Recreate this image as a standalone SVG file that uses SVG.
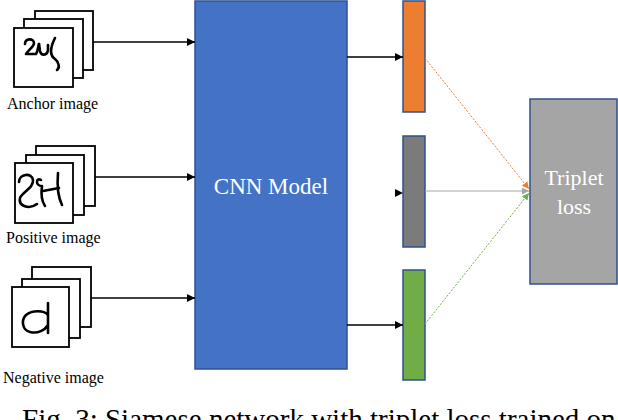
<svg xmlns="http://www.w3.org/2000/svg" width="618" height="420" viewBox="0 0 618 420">
<style>
.card{fill:#fff;stroke:#000;stroke-width:1.8}
.hw{fill:none;stroke:#000;stroke-width:2.6;stroke-linecap:round;stroke-linejoin:round}
.serif{font-family:"Liberation Serif","DejaVu Serif","Times New Roman",serif}
.lbl{font-size:16px;fill:#000}
.bar{stroke:#2F528F;stroke-width:1.5}
.wt{fill:#fff}
.arr{stroke:#000;stroke-width:1.5;fill:none}
</style>
<defs>
<marker id="ah" viewBox="0 0 10 10" refX="10" refY="5" markerWidth="8" markerHeight="8" markerUnits="userSpaceOnUse" orient="auto"><path d="M0,0L10,5L0,10z" fill="#000"/></marker>
<marker id="ao" viewBox="0 0 10 10" refX="10" refY="5" markerWidth="7" markerHeight="7" markerUnits="userSpaceOnUse" orient="auto"><path d="M0,0L10,5L0,10z" fill="#ED7D31"/></marker>
<marker id="ag" viewBox="0 0 10 10" refX="10" refY="5" markerWidth="7" markerHeight="7" markerUnits="userSpaceOnUse" orient="auto"><path d="M0,0L10,5L0,10z" fill="#70AD47"/></marker>
<marker id="ay" viewBox="0 0 10 10" refX="10" refY="5" markerWidth="7" markerHeight="7" markerUnits="userSpaceOnUse" orient="auto"><path d="M0,0L10,5L0,10z" fill="#A5A5A5"/></marker>
</defs>
<rect width="618" height="420" fill="#fff"/>

<g id="anchor">
<rect class="card" x="35" y="11" width="58" height="59"/>
<rect class="card" x="24" y="19" width="59" height="59"/>
<rect class="card" x="14" y="28" width="59" height="59"/>
<path class="hw" d="M25,44 C25,38 34,38 34,43 C34,47 28,50 26,54 L36,54 C38,51 38,47 39,44"/>
<path class="hw" d="M39,44 L40,51 C41,56 47,56 48,50 L48,45"/>
<path class="hw" d="M55,38 C51,46 49,55 55,59 C59,62 60,68 57,70"/>
<text class="serif lbl" x="7" y="109">Anchor image</text>
</g>

<g id="positive">
<rect class="card" x="36" y="146" width="59" height="60"/>
<rect class="card" x="26" y="155" width="58" height="60"/>
<rect class="card" x="15" y="163" width="58" height="60"/>
<path class="hw" d="M19,182 C19,174 32,172 33,180 C34,188 22,192 20,198 C18,206 29,210 37,204"/>
<path class="hw" d="M41,180 C36,177 35,186 42,186 C41,193 41,200 45,206"/>
<path class="hw" d="M43,191 L59,188"/>
<path class="hw" d="M58,173 C57,185 58,197 62,205"/>
<text class="serif lbl" x="6" y="243">Positive image</text>
</g>

<g id="negative">
<rect class="card" x="32" y="267" width="59" height="60"/>
<rect class="card" x="22" y="279" width="58" height="59"/>
<rect class="card" x="12" y="287" width="57" height="60"/>
<path class="hw" d="M48,303 L48,333 M48,315 C44,310 32,310 26,315 C21,320 22,330 30,332 C38,334 45,330 48,325"/>
<text class="serif lbl" x="3" y="383">Negative image</text>
</g>

<g id="cnn">
<rect x="195" y="1" width="152" height="368" fill="#4472C4" stroke="#2F528F" stroke-width="1.5"/>
<text class="serif wt" x="271" y="194" font-size="23" text-anchor="middle">CNN Model</text>
</g>

<g id="emb-anchor"><rect class="bar" x="403" y="1" width="22" height="111" fill="#ED7D31"/></g>
<g id="emb-positive"><rect class="bar" x="403" y="136" width="22" height="111" fill="#7B7B7B"/></g>
<g id="emb-negative"><rect class="bar" x="403" y="270" width="22" height="110" fill="#70AD47"/></g>

<g id="triplet">
<rect x="530" y="99" width="87" height="185" fill="#A5A5A5" stroke="#2F528F" stroke-width="1.5"/>
<text class="serif wt" x="574" y="185" font-size="22" text-anchor="middle">Triplet</text>
<text class="serif wt" x="574" y="214" font-size="22" text-anchor="middle">loss</text>
</g>

<g id="connectors">
<line class="arr" x1="93" y1="42" x2="195" y2="42" marker-end="url(#ah)"/>
<line class="arr" x1="95" y1="177" x2="195" y2="177" marker-end="url(#ah)"/>
<line class="arr" x1="91" y1="298" x2="195" y2="298" marker-end="url(#ah)"/>
<line class="arr" x1="347" y1="57" x2="403" y2="57" marker-end="url(#ah)"/>
<path d="M395,189 L403,193 L395,197z" fill="#000"/>
<line class="arr" x1="347" y1="325" x2="403" y2="325" marker-end="url(#ah)"/>
<line x1="425" y1="58" x2="529" y2="189" stroke="#ED7D31" stroke-width="1" stroke-dasharray="2,1.5" marker-end="url(#ao)"/>
<line x1="425" y1="191" x2="529" y2="191" stroke="#A5A5A5" stroke-width="1.2" marker-end="url(#ay)"/>
<line x1="425" y1="324" x2="529" y2="193" stroke="#70AD47" stroke-width="1" stroke-dasharray="2,1.5" marker-end="url(#ag)"/>
</g>

<text class="serif" x="22" y="429" font-size="29" fill="#000">Fig. 3: Siamese network with triplet loss trained on</text>
</svg>
